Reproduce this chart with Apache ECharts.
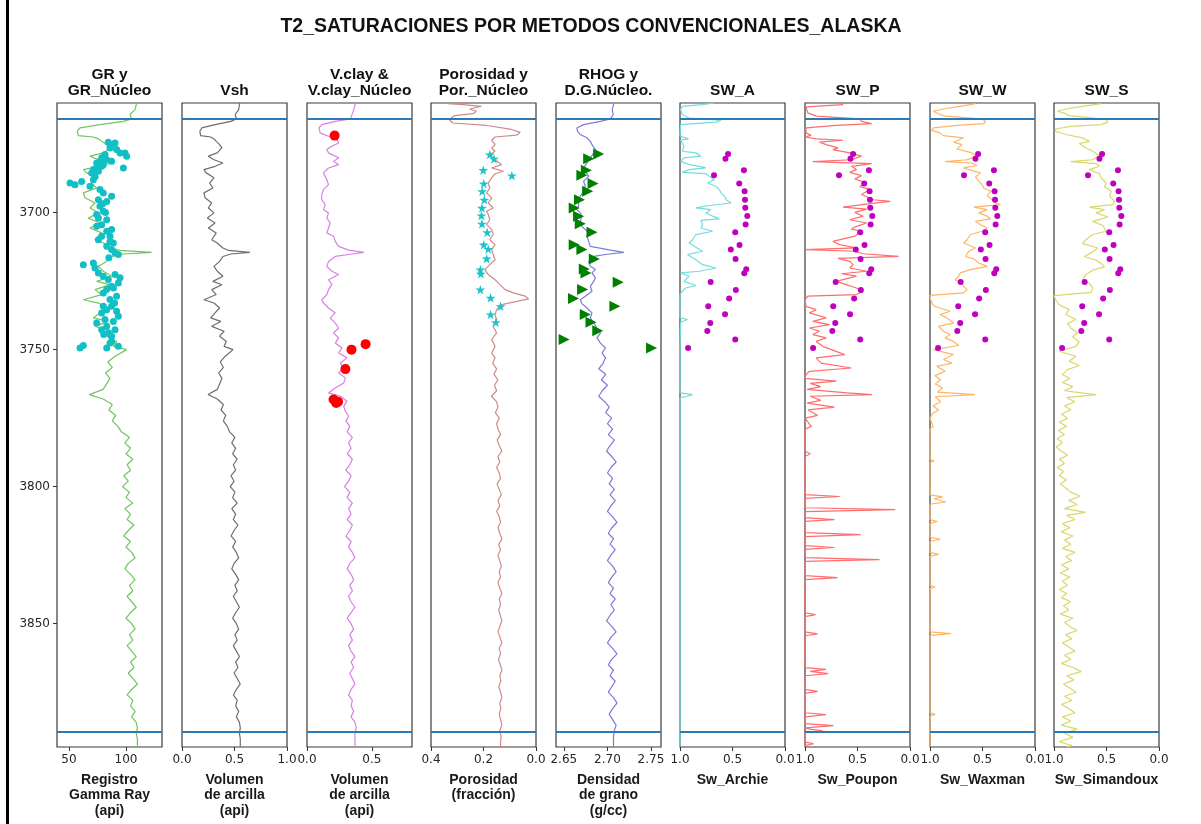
<!DOCTYPE html>
<html>
<head>
<meta charset="utf-8">
<script src="https://cdn.jsdelivr.net/npm/echarts@6/dist/echarts.min.js"></script>
<style>
  html, body { margin: 0; padding: 0; background: #ffffff; }
  #chart { width: 1201px; height: 824px; }
</style>
</head>
<body>
<div id="chart"></div>
<script>
// ---- Depth frame ----
const depthRange = [3660, 3895];
const depthTicks = [3700, 3750, 3800, 3850];
const zoneTops = [3665.7, 3889.4];

// ---- Axis tick values per track ----
const grTicks = [50, 100];
const vshTicks = [0, 0.5, 1];
const vclayTicks = [0, 0.5];
const porTicks = [0, 0.2, 0.4];
const rhogTicks = [2.65, 2.70, 2.75];
const swTicks = [0, 0.5, 1];

// ---- Log curves: [depth, value] ----
const grCurve = [
[3660.0,109.4],[3662.4,107.9],[3664.2,103.5],[3665.8,105.0],[3666.7,97.7],[3667.9,77.2],[3669.1,59.7],[3670.3,57.3],[3671.9,58.2],[3672.4,71.4],
[3673.1,75.8],[3674.0,78.7],[3675.2,83.1],[3676.4,86.0],[3678.2,80.1],[3679.4,68.4],[3680.7,75.8],[3681.9,87.4],[3683.1,77.2],[3684.3,62.6],
[3685.5,65.5],[3687.3,75.8],[3689.2,69.9],[3691.0,74.3],[3692.8,62.6],[3694.6,64.1],[3696.5,72.8],[3698.3,68.4],[3700.1,75.8],[3702.0,67.0],
[3703.8,77.2],[3705.6,68.4],[3707.4,78.7],[3709.9,72.8],[3711.1,80.1],[3712.9,87.4],[3713.8,94.8],[3714.5,122.5],[3715.1,97.7],[3716.0,87.4],
[3717.8,83.1],[3719.6,75.8],[3721.4,80.1],[3723.2,87.4],[3725.1,74.3],[3726.3,86.0],[3728.1,72.8],[3729.9,78.7],[3731.8,62.6],[3733.0,75.8],
[3734.8,83.1],[3736.6,77.2],[3738.4,71.4],[3739.7,84.5],[3741.5,72.8],[3743.3,88.9],[3745.1,83.1],[3747.0,91.8],[3748.8,88.9],[3750.0,100.6],
[3752.4,90.4],[3754.5,84],[3756.5,88],[3758.5,82],[3760.5,86],[3762.5,83],[3764.5,80],[3766.4,68],[3768,80],[3770,88],
[3772,85],[3774,91],[3776,88],[3778,93],[3780,96],[3782,103],[3784,99],[3786,104],[3788,100],[3790,106],
[3792,101],[3794,104],[3796,98],[3798,102],[3800,97],[3802,103],[3804,100],[3806,106],[3808,99],[3810,104],
[3812,101],[3814,107],[3816,102],[3818,98],[3820,104],[3822,100],[3824,105],[3826,108],[3828,102],[3830,99],
[3832,104],[3834,108],[3836,103],[3838,106],[3840,101],[3842,105],[3844,109],[3846,104],[3848,100],[3850,105],
[3852,108],[3854,103],[3856,106],[3858,101],[3860,105],[3862,109],[3864,104],[3866,107],[3868,102],[3870,106],
[3872,110],[3874,105],[3876,101],[3878,106],[3880,104],[3882,108],[3884,105],[3886,109],[3888,110],[3890,109],
[3892,110],[3895,110]
];

const vshCurve = [
[3660.0,0.550],[3662.4,0.539],[3664.2,0.507],[3665.8,0.518],[3666.7,0.465],[3667.9,0.315],[3669.1,0.188],[3670.3,0.170],[3671.9,0.177],[3672.4,0.273],
[3673.1,0.305],[3674.0,0.326],[3675.2,0.358],[3676.4,0.380],[3678.2,0.336],[3679.4,0.251],[3680.7,0.305],[3681.9,0.390],[3683.1,0.315],[3684.3,0.209],
[3685.5,0.230],[3687.3,0.305],[3689.2,0.262],[3691.0,0.294],[3692.8,0.209],[3694.6,0.220],[3696.5,0.283],[3698.3,0.251],[3700.1,0.305],[3702.0,0.241],
[3703.8,0.315],[3705.6,0.251],[3707.4,0.326],[3709.9,0.283],[3711.1,0.336],[3712.9,0.390],[3713.8,0.444],[3714.5,0.646],[3715.1,0.465],[3716.0,0.390],
[3717.8,0.358],[3719.6,0.305],[3721.4,0.336],[3723.2,0.390],[3725.1,0.294],[3726.3,0.380],[3728.1,0.283],[3729.9,0.326],[3731.8,0.209],[3733.0,0.305],
[3734.8,0.358],[3736.6,0.315],[3738.4,0.273],[3739.7,0.369],[3741.5,0.283],[3743.3,0.401],[3745.1,0.358],[3747.0,0.422],[3748.8,0.401],[3750.0,0.486],
[3752.4,0.412],[3754.5,0.365],[3756.5,0.394],[3758.5,0.350],[3760.5,0.380],[3762.5,0.358],[3764.5,0.336],[3766.4,0.248],[3768,0.336],[3770,0.394],
[3772,0.372],[3774,0.416],[3776,0.394],[3778,0.431],[3780,0.453],[3782,0.504],[3784,0.474],[3786,0.511],[3788,0.482],[3790,0.526],
[3792,0.489],[3794,0.511],[3796,0.467],[3798,0.496],[3800,0.460],[3802,0.504],[3804,0.482],[3806,0.526],[3808,0.474],[3810,0.511],
[3812,0.489],[3814,0.533],[3816,0.496],[3818,0.467],[3820,0.511],[3822,0.482],[3824,0.518],[3826,0.540],[3828,0.496],[3830,0.474],
[3832,0.511],[3834,0.540],[3836,0.504],[3838,0.526],[3840,0.489],[3842,0.518],[3844,0.547],[3846,0.511],[3848,0.482],[3850,0.518],
[3852,0.540],[3854,0.504],[3856,0.526],[3858,0.489],[3860,0.518],[3862,0.547],[3864,0.511],[3866,0.533],[3868,0.496],[3870,0.526],
[3872,0.555],[3874,0.518],[3876,0.489],[3878,0.526],[3880,0.511],[3882,0.540],[3884,0.518],[3886,0.547],[3888,0.555],[3890,0.547],
[3892,0.555],[3895,0.555]
];

const vclayCurve = [
[3660.0,0.374],[3662.4,0.361],[3664.8,0.343],[3665.8,0.335],[3666.7,0.218],[3667.9,0.114],[3669.1,0.093],[3670.9,0.101],[3672.4,0.179],[3673.4,0.231],
[3674.6,0.244],[3675.8,0.192],[3677.0,0.153],[3678.2,0.166],[3680.0,0.244],[3681.3,0.205],[3682.5,0.244],[3683.7,0.166],[3685.5,0.127],[3688.0,0.153],
[3689.8,0.166],[3691.6,0.127],[3693.4,0.114],[3695.3,0.114],[3697.1,0.140],[3698.9,0.127],[3700.1,0.166],[3702.0,0.153],[3703.8,0.179],[3705.6,0.166],
[3707.4,0.153],[3708.6,0.205],[3710.5,0.218],[3712.3,0.244],[3713.7,0.322],[3714.5,0.439],[3715.2,0.335],[3716.0,0.218],[3717.8,0.166],[3719.6,0.153],
[3721.4,0.192],[3722.6,0.244],[3724.5,0.166],[3726.3,0.192],[3728.1,0.166],[3729.9,0.153],[3731.8,0.114],[3733.0,0.127],[3734.8,0.166],[3736.6,0.218],
[3738.4,0.179],[3740.3,0.218],[3742.1,0.244],[3743.9,0.205],[3745.7,0.244],[3747.6,0.218],[3749.4,0.270],[3751.2,0.244],[3753.0,0.309],[3754.9,0.257],
[3756.7,0.283],[3758.5,0.244],[3760.3,0.296],[3762.2,0.283],[3764.0,0.218],[3765.8,0.166],[3767.0,0.257],[3768.8,0.309],[3770.7,0.283],[3772.5,0.296],
[3774.3,0.322],[3776,0.30],[3778,0.33],[3780,0.31],[3782,0.35],[3784,0.32],[3786,0.34],[3788,0.31],[3790,0.35],[3792,0.33],
[3794,0.30],[3796,0.34],[3798,0.32],[3800,0.29],[3802,0.33],[3804,0.31],[3806,0.35],[3808,0.32],[3810,0.34],[3812,0.31],
[3814,0.35],[3816,0.33],[3818,0.30],[3820,0.34],[3822,0.32],[3824,0.35],[3826,0.37],[3828,0.33],[3830,0.31],[3832,0.34],
[3834,0.36],[3836,0.33],[3838,0.35],[3840,0.32],[3842,0.34],[3844,0.37],[3846,0.34],[3848,0.31],[3850,0.34],[3852,0.36],
[3854,0.33],[3856,0.35],[3858,0.32],[3860,0.34],[3862,0.37],[3864,0.34],[3866,0.36],[3868,0.33],[3870,0.35],[3872,0.37],
[3874,0.34],[3876,0.32],[3878,0.35],[3880,0.34],[3882,0.36],[3884,0.34],[3886,0.37],[3888,0.38],[3890,0.37],[3892,0.37],[3895,0.37]
];

const porCurve = [
[3660.2,0.336],[3660.6,0.278],[3661.2,0.208],[3662.2,0.253],[3663.0,0.227],[3663.9,0.240],[3664.6,0.310],[3665.5,0.323],[3666.3,0.329],[3667.3,0.317],
[3668.2,0.188],[3669.5,0.099],[3670.7,0.060],[3671.7,0.073],[3672.4,0.156],[3673.6,0.169],[3675.2,0.156],[3676.4,0.169],[3677.6,0.156],[3678.8,0.176],
[3680.7,0.156],[3682.5,0.131],[3683.7,0.169],[3684.9,0.124],[3685.8,0.156],[3687.3,0.169],[3689.2,0.182],[3691.0,0.176],[3692.8,0.188],[3694.6,0.169],
[3696.5,0.182],[3698.3,0.163],[3699.5,0.188],[3700.7,0.182],[3702.6,0.176],[3704.4,0.188],[3706.2,0.169],[3708.0,0.163],[3709.9,0.176],[3711.7,0.156],
[3713.5,0.169],[3715.3,0.163],[3717.2,0.156],[3719.0,0.176],[3720.8,0.195],[3722.6,0.182],[3724.5,0.156],[3726.3,0.137],[3728.1,0.118],[3729.3,0.086],
[3730.5,0.041],[3731.5,0.028],[3732.4,0.073],[3733.6,0.131],[3735.4,0.150],[3737.2,0.156],[3739.0,0.150],[3741.5,0.163],[3743.9,0.150],[3746.3,0.169],
[3748.8,0.156],[3751.2,0.169],[3753.0,0.156],[3755,0.165],[3757,0.150],[3759,0.160],[3761,0.145],[3763,0.158],[3765,0.150],[3767,0.170],
[3769,0.150],[3771,0.145],[3773,0.155],[3775,0.140],[3777,0.150],[3779,0.145],[3781,0.135],[3783,0.148],[3785,0.140],[3787,0.130],
[3789,0.145],[3791,0.138],[3793,0.150],[3795,0.140],[3797,0.135],[3799,0.148],[3801,0.140],[3803,0.132],[3805,0.145],[3807,0.138],
[3809,0.150],[3811,0.140],[3813,0.135],[3815,0.145],[3817,0.138],[3819,0.130],[3821,0.142],[3823,0.135],[3825,0.145],[3827,0.138],
[3829,0.132],[3831,0.140],[3833,0.135],[3835,0.145],[3837,0.138],[3839,0.130],[3841,0.140],[3843,0.135],[3845,0.142],[3847,0.136],
[3849,0.130],[3851,0.138],[3853,0.145],[3855,0.137],[3857,0.130],[3859,0.140],[3861,0.135],[3863,0.143],[3865,0.136],[3867,0.130],
[3869,0.138],[3871,0.134],[3873,0.142],[3875,0.135],[3877,0.130],[3879,0.138],[3881,0.134],[3883,0.140],[3885,0.135],[3887,0.130],
[3889,0.138],[3891,0.133],[3893,0.135],[3895,0.135]
];

const rhogCurve = [
[3660.2,2.7074],[3662.4,2.7055],[3664.2,2.7067],[3665.8,2.7036],[3666.7,2.6920],[3667.9,2.6727],[3669.1,2.6649],[3670.3,2.6657],[3671.5,2.6688],[3672.7,2.6765],
[3674.0,2.6804],[3675.2,2.6823],[3677.0,2.6862],[3678.2,2.6843],[3680.0,2.6804],[3681.9,2.6765],[3683.7,2.6727],[3684.9,2.6746],[3686.7,2.6785],[3688.6,2.6727],
[3690.4,2.6746],[3692.2,2.6727],[3694.0,2.6688],[3695.9,2.6669],[3697.7,2.6669],[3698.9,2.6649],[3700.1,2.6688],[3701.3,2.6707],[3703.2,2.6688],[3705.0,2.6707],
[3706.2,2.6746],[3707.4,2.6785],[3708.6,2.6765],[3710.5,2.6785],[3712.3,2.6804],[3713.7,2.7036],[3714.5,2.7190],[3715.2,2.6997],[3716.0,2.6843],[3717.8,2.6785],
[3719.6,2.6804],[3720.8,2.6862],[3722.0,2.6823],[3723.8,2.6862],[3725.1,2.6843],[3726.9,2.6804],[3728.7,2.6823],[3730.5,2.6746],[3731.8,2.6688],[3733.2,2.6707],
[3734.8,2.6765],[3736.6,2.6823],[3738.4,2.6804],[3740.3,2.6843],[3742.1,2.6881],[3743.9,2.6920],[3745.7,2.6881],[3747.6,2.6920],[3749.4,2.6978],[3751.2,2.6939],
[3753.0,2.6978],[3755,2.695],[3757,2.690],[3759,2.698],[3761,2.693],[3763,2.700],[3765,2.694],[3767,2.690],[3769,2.697],[3771,2.702],
[3773,2.698],[3775,2.705],[3777,2.700],[3779,2.706],[3781,2.701],[3783,2.708],[3785,2.703],[3787,2.699],[3789,2.705],[3791,2.710],
[3793,2.704],[3795,2.700],[3797,2.706],[3799,2.702],[3801,2.708],[3803,2.703],[3805,2.709],[3807,2.704],[3809,2.700],[3811,2.706],
[3813,2.711],[3815,2.705],[3817,2.701],[3819,2.707],[3821,2.703],[3823,2.709],[3825,2.704],[3827,2.700],[3829,2.706],[3831,2.710],
[3833,2.705],[3835,2.701],[3837,2.707],[3839,2.703],[3841,2.709],[3843,2.704],[3845,2.708],[3847,2.703],[3849,2.699],[3851,2.705],
[3853,2.710],[3855,2.704],[3857,2.700],[3859,2.706],[3861,2.711],[3863,2.705],[3865,2.701],[3867,2.707],[3869,2.703],[3871,2.709],
[3873,2.705],[3875,2.701],[3877,2.707],[3879,2.711],[3881,2.706],[3883,2.702],[3885,2.706],[3887,2.710],[3889,2.708],[3891,2.707],[3895,2.707]
];

const swArchieCurve = [
[3660.0,0.673],[3660.6,0.785],[3661.2,0.978],[3662.4,0.994],[3664.2,0.978],[3665.5,0.913],[3666.3,0.609],[3667.0,0.657],[3667.9,0.994],[3672.1,1.0],
[3673.1,0.920],[3673.6,0.994],[3675.8,0.962],[3677.6,0.978],[3678.2,0.849],[3679.4,0.801],[3680.0,0.962],[3681.3,0.994],[3682.5,0.913],[3683.1,0.817],
[3683.7,0.753],[3684.3,0.913],[3685.3,0.978],[3685.8,0.753],[3686.7,0.721],[3688.0,0.673],[3689.2,0.737],[3690.4,0.657],[3691.6,0.625],[3692.8,0.609],
[3694.0,0.577],[3695.3,0.561],[3696.5,0.513],[3697.4,0.721],[3698.3,0.849],[3698.9,0.705],[3700.1,0.753],[3701.3,0.689],[3702.3,0.625],[3702.8,0.801],
[3704.4,0.785],[3705.6,0.801],[3706.8,0.689],[3708.0,0.849],[3709.9,0.881],[3711.1,0.913],[3712.3,0.865],[3714.1,0.785],[3715.3,0.929],[3717.2,0.849],
[3719.0,0.785],[3720.2,0.657],[3721.4,0.817],[3722.0,0.994],[3723.2,0.913],[3725.1,0.962],[3726.6,0.849],[3727.5,0.946],[3728.7,0.978],[3729.9,1.0],
[3738.4,1.0],[3739.0,0.929],[3740.0,0.994],[3748.8,1.0],[3765.8,1.0],[3766.4,0.88],[3767.0,0.93],[3767.6,1.0],[3895,1.0]
];

const swPouponCurve = [
[3660.0,0.670],[3660.6,0.638],[3661.4,0.990],[3663.6,0.974],[3664.8,0.894],[3665.8,0.478],[3666.7,0.462],[3667.5,0.365],[3668.2,0.702],[3669.1,0.990],
[3670.9,0.990],[3671.8,0.942],[3672.4,1.0],[3673.1,0.894],[3673.6,0.638],[3674.3,0.862],[3675.2,0.798],[3676.4,0.686],[3677.0,0.734],[3678.2,0.574],
[3679.4,0.462],[3680.7,0.558],[3681.4,0.926],[3682.1,0.365],[3683.1,0.558],[3684.3,0.510],[3685.3,0.574],[3686.5,0.462],[3687.7,0.526],[3689.2,0.413],
[3690.4,0.478],[3691.6,0.381],[3693.4,0.462],[3695.3,0.349],[3695.9,0.189],[3696.7,0.381],[3698.0,0.638],[3698.7,0.413],[3699.9,0.526],[3701.3,0.446],
[3702.6,0.574],[3703.8,0.413],[3705.0,0.510],[3706.0,0.558],[3706.8,0.462],[3708.6,0.526],[3710.5,0.734],[3711.7,0.670],[3712.9,0.510],[3713.5,1.0],
[3714.1,0.526],[3715.0,0.446],[3716.0,0.109],[3716.7,0.686],[3717.8,0.574],[3719.0,0.542],[3720.2,0.574],[3721.4,0.413],[3722.3,0.654],[3723.2,0.510],
[3725.1,0.702],[3726.3,0.606],[3727.5,0.510],[3728.7,0.446],[3729.9,0.510],[3730.5,0.974],[3731.8,1.0],[3734.2,0.990],[3735.4,0.894],[3736.6,0.958],
[3738.4,0.798],[3739.7,0.926],[3740.9,0.766],[3742.1,0.958],[3743.3,0.862],[3744.5,0.926],[3745.7,0.798],[3747.0,0.894],[3748.8,0.830],[3751.8,0.622],
[3753.0,0.894],[3754.9,0.846],[3756.7,0.558],[3757.9,0.958],[3759.1,0.990],[3760.5,1.0],[3761.5,0.70],[3762.3,0.95],[3763.5,0.85],[3764.5,0.98],
[3765.8,0.60],[3766.4,0.36],[3767.0,0.95],[3768.5,0.85],[3769.5,0.98],[3771.0,0.72],[3772.0,0.97],[3774.0,0.88],[3775.0,1.0],[3778.0,0.94],
[3779.0,1.0],[3787.0,1.0],[3788.0,0.95],[3789.0,1.0],[3802.9,1.0],[3803.6,0.67],[3804.3,1.0],[3807.7,1.0],[3808.4,0.14],[3809.1,1.0],
[3811.3,1.0],[3812.0,0.72],[3812.7,1.0],[3816.8,1.0],[3817.5,0.47],[3818.2,1.0],[3821.5,1.0],[3822.2,0.72],[3822.9,1.0],[3825.9,1.0],
[3826.6,0.29],[3827.3,1.0],[3832.5,1.0],[3833.2,0.69],[3833.9,1.0],[3846.0,1.0],[3846.7,0.90],[3847.4,1.0],[3853.0,1.0],[3853.7,0.88],
[3854.4,1.0],[3866.0,1.0],[3866.7,0.80],[3867.4,0.95],[3868.2,0.78],[3869.0,1.0],[3874.0,1.0],[3874.7,0.88],[3875.4,1.0],[3882.5,1.0],
[3883.2,0.80],[3884.0,1.0],[3886.5,1.0],[3887.2,0.73],[3888.0,1.0],[3888.5,0.95],[3889.1,0.83],[3889.8,1.0],[3893.2,1.0],[3893.8,0.92],
[3894.5,1.0],[3895,1.0]
];

const swWaxmanCurve = [
[3660.2,0.567],[3661.2,0.712],[3662.2,0.872],[3663.0,0.968],[3664.2,0.904],[3664.8,0.856],[3665.8,0.503],[3666.7,0.471],[3667.5,0.487],[3668.2,0.744],
[3669.1,0.968],[3670.0,0.984],[3670.9,0.904],[3671.9,0.872],[3672.7,0.679],[3673.4,0.663],[3674.3,0.776],[3675.2,0.696],[3676.8,0.744],[3678.0,0.615],
[3679.4,0.551],[3680.7,0.647],[3681.4,0.856],[3681.9,0.599],[3682.8,0.551],[3683.7,0.679],[3684.5,0.615],[3685.5,0.519],[3687.0,0.567],[3688.6,0.535],
[3689.8,0.503],[3691.0,0.487],[3692.2,0.423],[3693.8,0.455],[3695.3,0.407],[3696.5,0.375],[3697.1,0.327],[3698.0,0.583],[3698.9,0.455],[3700.1,0.535],
[3701.3,0.455],[3702.3,0.423],[3703.2,0.567],[3704.4,0.519],[3705.6,0.455],[3706.8,0.503],[3708.0,0.615],[3709.9,0.647],[3711.1,0.679],[3712.9,0.567],
[3714.1,0.631],[3716.0,0.663],[3716.9,0.583],[3718.4,0.535],[3719.6,0.455],[3720.8,0.615],[3722.0,0.712],[3723.2,0.728],[3724.5,0.760],[3725.7,0.696],
[3726.9,0.679],[3728.1,0.647],[3729.3,0.679],[3730.2,1.0],[3731.7,0.994],[3734.0,0.968],[3734.8,0.904],[3736.0,0.808],[3737.2,0.904],[3738.4,0.840],
[3740.3,0.776],[3741.5,0.920],[3743.3,0.872],[3744.5,0.808],[3745.7,0.856],[3747.0,0.776],[3748.5,0.728],[3750.0,0.968],[3751.8,0.776],[3753.6,0.872],
[3754.9,0.792],[3756.1,0.936],[3757.9,0.856],[3759.5,0.952],[3761.0,0.90],[3762.5,0.95],[3764.0,0.88],[3765.5,0.93],[3766.4,0.57],[3767.2,0.95],
[3769.0,0.90],[3770.5,0.97],[3772.0,0.92],[3773.5,0.98],[3775.0,1.0],[3778.0,0.97],[3779.0,1.0],[3790.0,1.0],[3790.6,0.96],[3791.2,1.0],
[3803.0,1.0],[3803.7,0.88],[3804.4,0.96],[3805.6,0.85],[3806.4,1.0],[3812.0,1.0],[3812.7,0.93],[3813.4,1.0],[3818.5,1.0],[3819.2,0.90],
[3820.0,1.0],[3824.0,1.0],[3824.7,0.92],[3825.4,1.0],[3836.0,1.0],[3836.6,0.95],[3837.2,1.0],[3853.0,1.0],[3853.6,0.80],[3854.3,1.0],
[3882.5,1.0],[3883.1,0.95],[3883.7,1.0],[3895,1.0]
];

const swSimandouxCurve = [
[3660.2,0.551],[3661.2,0.728],[3662.2,0.888],[3663.0,0.968],[3663.9,0.888],[3664.6,0.856],[3665.5,0.615],[3666.1,0.503],[3667.0,0.487],[3667.9,0.551],
[3668.5,0.840],[3669.5,0.984],[3670.3,0.990],[3671.5,0.888],[3672.7,0.728],[3674.0,0.663],[3674.8,0.760],[3676.4,0.696],[3677.6,0.631],[3679.2,0.567],
[3680.7,0.631],[3681.4,0.840],[3682.1,0.599],[3683.1,0.567],[3684.3,0.663],[3685.8,0.567],[3687.3,0.551],[3689.2,0.503],[3690.6,0.519],[3692.2,0.455],
[3694.0,0.471],[3695.9,0.423],[3697.1,0.439],[3698.0,0.663],[3698.9,0.519],[3700.1,0.599],[3701.6,0.487],[3703.2,0.631],[3704.7,0.535],[3706.8,0.503],
[3708.0,0.631],[3709.9,0.696],[3711.3,0.728],[3712.9,0.583],[3714.7,0.647],[3716.0,0.712],[3717.4,0.599],[3718.6,0.551],[3719.8,0.519],[3721.0,0.631],
[3722.6,0.696],[3724.5,0.728],[3725.9,0.663],[3727.5,0.631],[3729.1,0.647],[3730.3,1.0],[3731.8,0.984],[3733.6,0.952],[3735.4,0.856],[3737.2,0.888],
[3739.0,0.792],[3740.5,0.872],[3742.1,0.840],[3743.9,0.776],[3745.4,0.824],[3747.0,0.760],[3748.8,0.792],[3750.6,0.952],[3752.4,0.792],[3754.2,0.856],
[3755.8,0.760],[3757.3,0.872],[3759.1,0.920],[3760.5,0.85],[3762.0,0.92],[3763.5,0.82],[3765.0,0.90],[3766.4,0.60],[3767.5,0.88],[3769.0,0.80],
[3770.5,0.90],[3772.0,0.84],[3773.5,0.93],[3775.0,0.87],[3776.5,0.95],[3778.0,0.88],[3779.5,0.96],[3781.0,0.90],[3782.5,0.97],[3784.0,0.92],
[3785.5,0.98],[3787.0,0.93],[3788.5,0.87],[3790.0,0.95],[3791.5,0.90],[3793.0,0.97],[3794.5,0.91],[3796.0,0.95],[3797.5,0.88],[3799.0,0.94],
[3800.5,0.89],[3802.0,0.84],[3803.5,0.75],[3805.0,0.86],[3806.5,0.78],[3808.0,0.90],[3809.4,0.70],[3810.5,0.88],[3812.0,0.80],[3813.5,0.92],
[3815.0,0.85],[3816.5,0.93],[3818.0,0.82],[3819.5,0.90],[3821.0,0.84],[3822.5,0.92],[3824.0,0.80],[3825.5,0.89],[3827.0,0.83],[3828.5,0.93],
[3830.0,0.86],[3831.5,0.94],[3833.0,0.85],[3834.5,0.92],[3836.0,0.87],[3837.5,0.95],[3839.0,0.88],[3840.5,0.93],[3842.0,0.84],[3843.5,0.91],
[3845.0,0.86],[3846.5,0.94],[3848.0,0.82],[3849.5,0.90],[3851.0,0.85],[3852.5,0.78],[3854.0,0.89],[3855.5,0.83],[3857.0,0.92],[3858.5,0.86],
[3860.0,0.80],[3861.5,0.90],[3863.0,0.84],[3864.5,0.93],[3866.0,0.82],[3867.5,0.74],[3869.0,0.88],[3870.5,0.81],[3872.0,0.91],[3873.5,0.85],
[3875.0,0.79],[3876.5,0.90],[3878.0,0.83],[3879.5,0.93],[3881.0,0.86],[3882.5,0.80],[3884.0,0.92],[3885.5,0.84],[3887.0,0.93],[3888.5,0.78],
[3890.0,0.90],[3891.5,0.82],[3893.0,0.95],[3894.5,0.83],[3895,0.88]
];

// ---- Core measurements: [depth, value] ----
const grCore = [
[3674.3,84.5],[3675.2,87.4],[3674.6,90.4],[3677.0,91.8],[3678.2,94.8],[3678.2,99.1],[3679.4,100.6],[3676.4,86.0],[3678.8,81.6],[3680.0,78.7],
[3681.3,77.2],[3681.9,74.3],[3680.7,83.1],[3681.3,87.4],[3683.1,78.7],[3683.7,74.3],[3684.3,71.4],[3685.5,69.9],[3686.7,72.8],[3684.9,75.8],
[3682.5,80.1],[3683.7,97.7],[3689.2,50.9],[3689.8,55.3],[3688.6,61.1],[3690.4,68.4],[3688.0,71.4],[3691.6,77.2],[3692.8,80.1],[3695.3,75.8],
[3694.0,87.4],[3695.9,83.1],[3697.7,77.2],[3699.5,80.1],[3700.7,74.3],[3702.0,75.8],[3702.6,83.1],[3704.4,78.7],[3706.8,83.1],[3706.2,87.4],
[3705.0,74.3],[3708.6,78.7],[3709.9,75.8],[3710.5,86.0],[3712.3,83.1],[3713.5,87.4],[3714.7,90.4],[3715.3,93.3],[3711.1,88.9],[3708.6,86.0],
[3719.0,62.6],[3718.4,71.4],[3720.2,72.8],[3722.0,75.8],[3723.2,80.1],[3724.4,84.5],[3722.6,90.4],[3723.8,94.8],[3725.7,93.3],[3726.9,87.4],
[3728.1,83.1],[3729.3,80.1],[3731.7,86.0],[3730.5,91.8],[3734.2,87.4],[3735.4,83.1],[3736.6,78.7],[3739.0,81.6],[3736.0,91.8],[3737.8,93.3],
[3739.7,88.9],[3741.5,83.1],[3742.7,78.7],[3743.9,84.5],[3745.1,87.4],[3742.7,90.4],[3747.6,86.0],[3749.4,83.1],[3749.4,59.7],[3748.5,62.6],
[3747.0,87.4],[3748.8,93.3],[3734.2,80.1],[3740.3,74.3],[3696.8,79.5],[3700.0,82.0],[3716.5,85.0],[3727.5,89.0],[3733.0,90.0],[3744.5,80.5]
];

const vclayCore = [[3671.9,0.213],[3748.0,0.452],[3750.0,0.343],[3757.1,0.296],[3768.2,0.205],[3769.5,0.225],[3769.0,0.240]];

const porCore = [
[3678.8,0.176],[3680.4,0.160],[3684.5,0.201],[3686.5,0.092],[3689.4,0.199],[3692.2,0.205],[3695.3,0.197],[3698.3,0.206],[3701.1,0.208],[3704.1,0.206],
[3707.2,0.186],[3711.7,0.199],[3713.3,0.182],[3716.8,0.188],[3720.8,0.212],[3722.3,0.210],[3728.1,0.212],[3731.1,0.173],[3734.2,0.135],[3737.2,0.173],[3740.0,0.153]
];

const rhogCore = [
[3678.6,2.6900],[3680.3,2.6785],[3684.5,2.6758],[3686.4,2.6707],[3689.4,2.6835],[3692.2,2.6773],[3695.3,2.6680],[3698.3,2.6619],[3701.3,2.6669],[3704.1,2.6688],
[3707.2,2.6823],[3711.7,2.6619],[3713.5,2.6707],[3716.9,2.6850],[3720.6,2.6734],[3722.0,2.6754],[3725.4,2.7124],[3728.1,2.6715],[3731.3,2.6611],[3734.2,2.7086],
[3737.2,2.6746],[3740.0,2.6812],[3743.1,2.6889],[3746.3,2.6503],[3749.4,2.7507]
];

const swCore = [
[3678.6,0.542],[3680.3,0.567],[3684.5,0.391],[3686.4,0.676],[3689.4,0.436],[3692.2,0.385],[3695.3,0.381],[3698.2,0.378],[3701.2,0.359],[3704.3,0.375],
[3707.2,0.474],[3711.8,0.433],[3713.5,0.516],[3716.9,0.471],[3720.7,0.369],[3722.1,0.388],[3725.3,0.708],[3728.2,0.468],[3731.3,0.532],[3734.2,0.731],
[3737.1,0.571],[3740.3,0.712],[3743.2,0.740],[3746.3,0.474],[3749.4,0.923]
];

// ---- Drawing ----
const STAR = 'path://M50,0 L61,35 L98,35 L68,57 L79,91 L50,70 L21,91 L32,57 L2,35 L39,35 Z';
const TRI_RIGHT = 'path://M0,0 L100,50 L0,100 Z';

const trackLefts = [57, 182, 307, 431, 556, 680, 805, 930, 1054];
const TRACK_W = 105, TRACK_TOP = 103, TRACK_H = 644;

const tracks = [
  { title: 'GR y\nGR_Núcleo', unit: 'Registro\nGamma Ray\n(api)', curve: grCurve, color: '#72c462',
    min: 39.5, max: 131.6, inverse: false, ticks: grTicks, fmt: v => String(v),
    core: { data: grCore, symbol: 'circle', size: 7, color: '#12bfc4' } },
  { title: 'Vsh', unit: 'Volumen\nde arcilla\n(api)', curve: vshCurve, color: '#6e6e6e',
    min: 0, max: 1, inverse: false, ticks: vshTicks, fmt: v => v.toFixed(1) },
  { title: 'V.clay &\nV.clay_Núcleo', unit: 'Volumen\nde arcilla\n(api)', curve: vclayCurve, color: '#d77fe6',
    min: 0, max: 0.81, inverse: false, ticks: vclayTicks, fmt: v => v.toFixed(1),
    core: { data: vclayCore, symbol: 'circle', size: 10, color: '#ff0000' } },
  { title: 'Porosidad y\nPor._Núcleo', unit: 'Porosidad\n(fracción)', curve: porCurve, color: '#d08a8a',
    min: 0, max: 0.4, inverse: true, ticks: porTicks, fmt: v => v.toFixed(1),
    core: { data: porCore, symbol: STAR, size: 10, color: '#1cc3c8' } },
  { title: 'RHOG y\nD.G.Núcleo.', unit: 'Densidad\nde grano\n(g/cc)', curve: rhogCurve, color: '#7c7cd8',
    min: 2.641, max: 2.7615, inverse: false, ticks: rhogTicks, fmt: v => v.toFixed(2),
    core: { data: rhogCore, symbol: TRI_RIGHT, size: 11, color: '#008000' } },
  { title: 'SW_A', unit: 'Sw_Archie', curve: swArchieCurve, color: '#74dcdc',
    min: 0, max: 1, inverse: true, ticks: swTicks, fmt: v => v.toFixed(1),
    core: { data: swCore, symbol: 'circle', size: 6, color: '#bf00bf' } },
  { title: 'SW_P', unit: 'Sw_Poupon', curve: swPouponCurve, color: '#ff6e6e',
    min: 0, max: 1, inverse: true, ticks: swTicks, fmt: v => v.toFixed(1),
    core: { data: swCore, symbol: 'circle', size: 6, color: '#bf00bf' } },
  { title: 'SW_W', unit: 'Sw_Waxman', curve: swWaxmanCurve, color: '#ffb466',
    min: 0, max: 1, inverse: true, ticks: swTicks, fmt: v => v.toFixed(1),
    core: { data: swCore, symbol: 'circle', size: 6, color: '#bf00bf' } },
  { title: 'SW_S', unit: 'Sw_Simandoux', curve: swSimandouxCurve, color: '#d8d86c',
    min: 0, max: 1, inverse: true, ticks: swTicks, fmt: v => v.toFixed(1),
    core: { data: swCore, symbol: 'circle', size: 6, color: '#bf00bf' } }
];

const TICK_FONT = { fontFamily: 'DejaVu Sans', fontSize: 12, color: '#262626' };
const BOLD = '"Liberation Sans", Arial, sans-serif';

const grid = [], xAxis = [], yAxis = [], series = [], graphic = [];

tracks.forEach((t, i) => {
  grid.push({
    left: trackLefts[i], top: TRACK_TOP, width: TRACK_W, height: TRACK_H,
    show: true, borderColor: '#3a3a3a', borderWidth: 1.2, backgroundColor: '#fff'
  });
  xAxis.push({
    gridIndex: i, type: 'value', min: t.min, max: t.max, inverse: t.inverse,
    axisLine: { show: false }, splitLine: { show: false },
    axisTick: { show: true, length: 4, lineStyle: { color: '#333' }, customValues: t.ticks },
    axisLabel: { show: true, margin: 7, ...TICK_FONT, formatter: t.fmt, customValues: t.ticks }
  });
  yAxis.push({
    gridIndex: i, type: 'value', min: depthRange[0], max: depthRange[1], inverse: true,
    axisLine: { show: false }, splitLine: { show: false },
    axisTick: { show: i === 0, length: 4, lineStyle: { color: '#333' }, customValues: depthTicks },
    axisLabel: { show: i === 0, margin: 7, ...TICK_FONT, formatter: v => String(v), customValues: depthTicks }
  });
  series.push({
    type: 'line', xAxisIndex: i, yAxisIndex: i, silent: true,
    data: t.curve.map(p => [p[1], p[0]]),
    showSymbol: false, symbol: 'none',
    lineStyle: { color: t.color, width: 1.2 },
    z: 2,
    markLine: {
      silent: true, symbol: ['none', 'none'], label: { show: false },
      lineStyle: { color: '#2a7ab8', width: 2, type: 'solid' },
      data: zoneTops.map(d => ({ yAxis: d }))
    }
  });
  if (t.core) {
    series.push({
      type: 'scatter', xAxisIndex: i, yAxisIndex: i, silent: true,
      data: t.core.data.map(p => [p[1], p[0]]),
      symbol: t.core.symbol, symbolSize: t.core.size, symbolKeepAspect: true,
      itemStyle: { color: t.core.color, opacity: 1 },
      z: 3
    });
  }
  const cx = trackLefts[i] + TRACK_W / 2;
  const twoLine = t.title.indexOf('\n') >= 0;
  graphic.push({
    type: 'text', x: cx, y: twoLine ? 67 : 83, silent: true,
    style: { text: t.title, align: 'center', verticalAlign: 'top', fontFamily: BOLD,
             fontWeight: 'bold', fontSize: 15.5, lineHeight: 16, fill: '#111' }
  });
  graphic.push({
    type: 'text', x: cx, y: 772, silent: true,
    style: { text: t.unit, align: 'center', verticalAlign: 'top', fontFamily: BOLD,
             fontWeight: 'bold', fontSize: 14, lineHeight: 15.5, fill: '#1a1a1a' }
  });
});

graphic.push({
  type: 'text', x: 591, y: 27, silent: true,
  style: { text: 'T2_SATURACIONES POR METODOS CONVENCIONALES_ALASKA', align: 'center',
           verticalAlign: 'middle', fontFamily: BOLD, fontWeight: 'bold', fontSize: 19.5, fill: '#111' }
});
graphic.push({ type: 'rect', silent: true, shape: { x: 6, y: 0, width: 3, height: 824 }, style: { fill: '#000' } });

const chart = echarts.init(document.getElementById('chart'), null, { renderer: 'canvas' });
chart.setOption({
  backgroundColor: '#ffffff',
  animation: false,
  grid, xAxis, yAxis, series, graphic
});
</script>
</body>
</html>
